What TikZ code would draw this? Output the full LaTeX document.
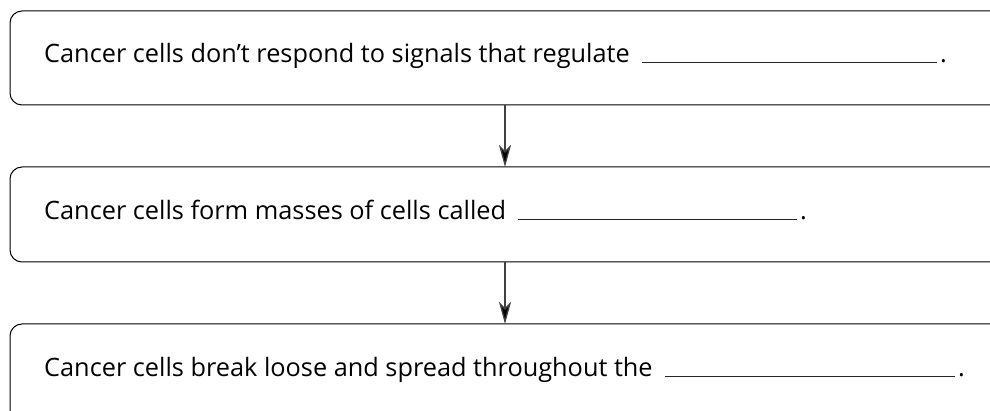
\documentclass[tikz,border=0pt]{standalone}
\usepackage{fontspec}
\setmainfont{Open Sans}
\usetikzlibrary{arrows.meta}
\tikzset{
  flowbox/.style={draw=black, line width=1pt, rounded corners=12pt},
  flowtext/.style={anchor=base west, inner sep=0pt, font=\fontsize{25.3}{30}\selectfont},
  blankrule/.style={draw=black!85, line width=1pt},
  flowarrow/.style={draw=black!75, line width=1.3pt, -{Stealth[length=22pt,width=12pt,inset=6pt,fill=black]}},
}
\begin{document}
\begin{tikzpicture}[x=1pt,y=-1pt]
\useasboundingbox (0,0) rectangle (990,411);
\clip (0,0) rectangle (990,411);
\draw[flowbox] (10,11) rectangle (1010,105);
\draw[flowbox] (10,167) rectangle (1010,262);
\draw[flowbox] (10,324) rectangle (1010,440);
\coordinate (b1) at (505,105);
\coordinate (t2) at (505,167);
\coordinate (b2) at (505,262);
\coordinate (t3) at (505,324);
\node[flowtext] (x1) at (44,63) {Cancer cells don’t respond to signals that regulate};
\node[flowtext] (x2) at (44,220) {Cancer cells form masses of cells called};
\node[flowtext] (x3) at (44,376) {Cancer cells break loose and spread throughout the};
\node[flowtext] (p1) at (940,63) {.};
\node[flowtext] (p2) at (800,220) {.};
\node[flowtext] (p3) at (958,376) {.};
\coordinate (s1) at ([xshift=12pt]x1.base east);
\coordinate (s2) at ([xshift=12pt]x2.base east);
\coordinate (s3) at ([xshift=12pt]x3.base east);
\coordinate (e1) at (937,63);
\coordinate (e2) at (797,220);
\coordinate (e3) at (955,376);
\draw[blankrule] (s1) -- (e1);
\draw[blankrule] (s2) -- (e2);
\draw[blankrule] (s3) -- (e3);
\draw[flowarrow] (b1) -- (t2);
\draw[flowarrow] (b2) -- (t3);
\end{tikzpicture}
\end{document}
